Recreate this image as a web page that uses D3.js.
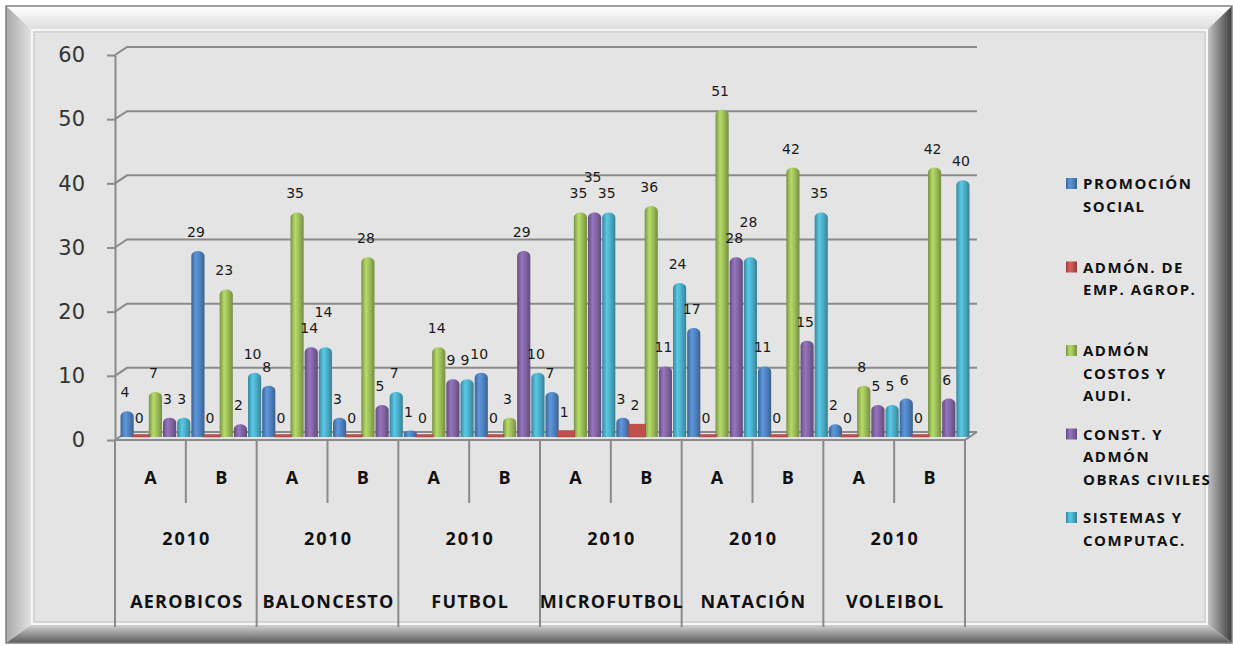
<!DOCTYPE html>
<html>
<head>
<meta charset="utf-8">
<script src="https://cdn.jsdelivr.net/npm/d3@7"></script>
<style>
  body { margin: 0; background: #fff; }
  svg { display: block; }
</style>
</head>
<body>
<script>
// chart data
const sports = ["AEROBICOS", "BALONCESTO", "FUTBOL", "MICROFUTBOL", "NATACIÓN", "VOLEIBOL"];
const sections = ["A", "B"];
const yearLabel = "2010";
const seriesNames = ["PROMOCIÓN SOCIAL", "ADMÓN. DE EMP. AGROP.", "ADMÓN COSTOS Y AUDI.", "CONST. Y ADMÓN OBRAS CIVILES", "SISTEMAS Y COMPUTAC."];
const legendLines = [["PROMOCIÓN", "SOCIAL"], ["ADMÓN. DE", "EMP. AGROP."], ["ADMÓN", "COSTOS Y", "AUDI."], ["CONST. Y", "ADMÓN", "OBRAS CIVILES"], ["SISTEMAS Y", "COMPUTAC."]];
const colors = ["#4f81bd", "#c0504d", "#9bbb59", "#8064a2", "#4bacc6"];
// one value per sport/section (A, B) in order
const promocionSocial = [4, 29, 8, 3, 1, 10, 7, 3, 17, 11, 2, 6];
const admonEmpAgrop   = [0, 0, 0, 0, 0, 0, 1, 2, 0, 0, 0, 0];
const admonCostos     = [7, 23, 35, 28, 14, 3, 35, 36, 51, 42, 8, 42];
const constObras      = [3, 2, 14, 5, 9, 29, 35, 11, 28, 15, 5, 6];
const sistemas        = [3, 10, 14, 7, 9, 10, 35, 24, 28, 35, 5, 40];
const yTicks = [0, 10, 20, 30, 40, 50, 60];

const seriesValues = [promocionSocial, admonEmpAgrop, admonCostos, constObras, sistemas];

const W = 1233, H = 646;
const svg = d3.select("body").append("svg")
  .attr("width", W)
  .attr("height", H);

const defs = svg.append("defs");

// frame gradients
function vGrad(id, c1, c2, horizontal) {
  const g = defs.append("linearGradient").attr("id", id)
    .attr("x1", 0).attr("y1", 0)
    .attr("x2", horizontal ? 1 : 0).attr("y2", horizontal ? 0 : 1);
  g.append("stop").attr("offset", 0).attr("stop-color", c1);
  g.append("stop").attr("offset", 1).attr("stop-color", c2);
}
vGrad("gTop", "#ffffff", "#dcdcdc", false);
vGrad("gLeft", "#a8a8a8", "#e4e4e4", true);
vGrad("gRight", "#c8c8c8", "#3c3c3c", true);
vGrad("gBottom", "#d8d8d8", "#5a5a5a", false);

// bar gradients (cylinder shading)
colors.forEach((c, i) => {
  const g = defs.append("linearGradient").attr("id", "bar" + i)
    .attr("x1", 0).attr("y1", 0).attr("x2", 1).attr("y2", 0);
  g.append("stop").attr("offset", 0).attr("stop-color", d3.color(c).darker(0.7));
  g.append("stop").attr("offset", 0.35).attr("stop-color", d3.color(c).brighter(0.45));
  g.append("stop").attr("offset", 0.65).attr("stop-color", c);
  g.append("stop").attr("offset", 1).attr("stop-color", d3.color(c).darker(0.8));
});

// outer bevel frame
const O = {x0: 6, y0: 6, x1: 1232, y1: 643};
const I = {x0: 32, y0: 30, x1: 1207, y1: 624};
const poly = (pts, fill) => svg.append("polygon")
  .attr("points", pts.map(p => p.join(",")).join(" "))
  .attr("fill", fill);
poly([[O.x0, O.y0], [O.x1, O.y0], [I.x1, I.y0], [I.x0, I.y0]], "url(#gTop)");
poly([[O.x0, O.y0], [I.x0, I.y0], [I.x0, I.y1], [O.x0, O.y1]], "url(#gLeft)");
poly([[I.x1, I.y0], [O.x1, O.y0], [O.x1, O.y1], [I.x1, I.y1]], "url(#gRight)");
poly([[I.x0, I.y1], [I.x1, I.y1], [O.x1, O.y1], [O.x0, O.y1]], "url(#gBottom)");
svg.append("rect")
  .attr("x", O.x0).attr("y", O.y0)
  .attr("width", O.x1 - O.x0).attr("height", O.y1 - O.y0)
  .attr("fill", "none").attr("stroke", "#808080").attr("stroke-width", 1.5);

// inner panel
svg.append("rect")
  .attr("x", I.x0).attr("y", I.y0)
  .attr("width", I.x1 - I.x0).attr("height", I.y1 - I.y0)
  .attr("fill", "#e4e4e4").attr("stroke", "#f6f6f6").attr("stroke-width", 2);
svg.append("rect")
  .attr("x", I.x0 + 2).attr("y", I.y0 + 2)
  .attr("width", I.x1 - I.x0 - 4).attr("height", I.y1 - I.y0 - 4)
  .attr("fill", "none").attr("stroke", "#c4c4c4").attr("stroke-width", 1);

// scales
const groups = [];
sports.forEach(s => sections.forEach(sec => groups.push(s + "|" + sec)));
const x0 = d3.scaleBand().domain(groups).range([115, 965]);
const x1 = d3.scaleBand().domain(d3.range(seriesNames.length)).range([0, x0.bandwidth()]);
const xSport = d3.scaleBand().domain(sports).range([115, 965]);
const y = d3.scaleLinear().domain([0, 60]).range([440, 55]);

const back = {dx: 12, dy: -8};
const mid = {dx: 5, dy: -3};
const gridColor = "#8a8a8a";

// gridlines with 3d back wall
const grid = svg.append("g");
yTicks.forEach(t => {
  grid.append("path")
    .attr("d", `M115,${y(t)} L${115 + back.dx},${y(t) + back.dy} L${965 + back.dx},${y(t) + back.dy}`)
    .attr("fill", "none").attr("stroke", gridColor).attr("stroke-width", 2);
});
// floor front edge
grid.append("path")
  .attr("d", `M115,${y(0)} L965,${y(0)} L${965 + back.dx},${y(0) + back.dy}`)
  .attr("fill", "none").attr("stroke", gridColor).attr("stroke-width", 2);

// y axis
const yAxis = svg.append("g")
  .attr("transform", "translate(115,0)")
  .call(d3.axisLeft(y).tickValues(yTicks).tickSize(8).tickSizeOuter(0).tickPadding(22));
yAxis.select(".domain").attr("stroke", gridColor).attr("stroke-width", 2);
yAxis.selectAll(".tick line").attr("stroke", gridColor).attr("stroke-width", 2);
yAxis.selectAll(".tick text")
  .attr("fill", "#333")
  .style("font-family", "'DejaVu Sans', sans-serif")
  .style("font-size", "21px");

// bars
const barW = x1.bandwidth() - 1;
const rows = [];
groups.forEach((g, gi) => {
  seriesValues.forEach((vals, si) => rows.push({group: g, s: si, v: vals[gi]}));
});
const barX = d => x0(d.group) + x1(d.s) + mid.dx + 0.5;
const base = y(0) + mid.dy;
const barTop = d => y(d.v) + mid.dy;

function cylinder(d) {
  const x = barX(d), r = barW / 2, t = barTop(d);
  const ry = Math.min(5, (base - t) / 2);
  return `M${x},${base} L${x},${t + ry} A${r},${ry} 0 0 1 ${x + barW},${t + ry} L${x + barW},${base} Z`;
}

const bars = svg.append("g");
bars.selectAll("path.cyl")
  .data(rows.filter(d => d.s !== 1 && d.v > 0))
  .join("path")
    .attr("class", "cyl")
    .attr("d", cylinder)
    .attr("fill", d => `url(#bar${d.s})`);

// the red series renders as flat boxes
bars.selectAll("rect.box")
  .data(rows.filter(d => d.s === 1))
  .join("rect")
    .attr("class", "box")
    .attr("x", d => barX(d) - 2)
    .attr("y", d => Math.min(barTop(d), base - 2.5))
    .attr("width", barW + 4)
    .attr("height", d => Math.max(base - barTop(d), 2.5))
    .attr("fill", colors[1])
    .attr("stroke", d3.color(colors[1]).darker(0.5))
    .attr("stroke-width", 0.5);

// value labels, nudged upward when they would collide with a neighbour
const placed = [];
rows.forEach(d => {
  d.lx = barX(d) + barW / 2 - 2;
  d.ly = barTop(d) - 14;
  d.w = String(d.v).length * 8.9;
  let moved = true;
  while (moved) {
    moved = false;
    for (const p of placed) {
      if (Math.abs(p.lx - d.lx) < (p.w + d.w) / 2 && Math.abs(p.ly - d.ly) < 14) {
        d.ly = p.ly - 16;
        moved = true;
      }
    }
  }
  placed.push(d);
});

svg.append("g").selectAll("text")
  .data(rows)
  .join("text")
    .attr("x", d => d.lx)
    .attr("y", d => d.ly)
    .attr("text-anchor", "middle")
    .attr("fill", "#1a1a1a")
    .style("font-family", "'DejaVu Sans', sans-serif")
    .style("font-size", "14px")
    .text(d => d.v);

// category axis
const xAxis = svg.append("g");
groups.forEach((g, gi) => {
  const xs = x0(g);
  const isSportStart = gi % 2 === 0;
  xAxis.append("line")
    .attr("x1", xs).attr("x2", xs)
    .attr("y1", y(0)).attr("y2", isSportStart ? 627 : 503)
    .attr("stroke", gridColor).attr("stroke-width", 2);
});
xAxis.append("line")
  .attr("x1", 965).attr("x2", 965)
  .attr("y1", y(0)).attr("y2", 627)
  .attr("stroke", gridColor).attr("stroke-width", 2);

const catFont = sel => sel
  .attr("text-anchor", "middle")
  .attr("fill", "#111")
  .style("font-family", "'Open Sans', sans-serif")
  .style("font-weight", "700")
  .style("font-size", "18px");

xAxis.selectAll("text.sec")
  .data(groups)
  .join("text")
    .attr("class", "sec")
    .attr("x", g => x0(g) + x0.bandwidth() / 2)
    .attr("y", 484)
    .call(catFont)
    .text(g => g.split("|")[1]);

xAxis.selectAll("text.year")
  .data(sports)
  .join("text")
    .attr("class", "year")
    .attr("x", s => xSport(s) + xSport.bandwidth() / 2 + 1)
    .attr("y", 545)
    .call(catFont)
    .style("letter-spacing", "2px")
    .text(yearLabel);

xAxis.selectAll("text.sport")
  .data(sports)
  .join("text")
    .attr("class", "sport")
    .attr("x", s => xSport(s) + xSport.bandwidth() / 2 + 1)
    .attr("y", 608)
    .call(catFont)
    .style("letter-spacing", "1.2px")
    .text(s => s);

// legend
const legend = svg.append("g");
legendLines.forEach((lines, i) => {
  const ly = 184 + i * 83.5;
  legend.append("rect")
    .attr("x", 1066).attr("y", ly - 6)
    .attr("width", 11).attr("height", 11)
    .attr("fill", `url(#bar${i})`);
  legend.append("text")
    .attr("x", 1083)
    .attr("fill", "#111")
    .style("font-family", "'Open Sans', sans-serif")
    .style("font-weight", "700")
    .style("font-size", "15px")
    .style("letter-spacing", "1.5px")
    .selectAll("tspan")
    .data(lines)
    .join("tspan")
      .attr("x", 1083)
      .attr("y", (d, j) => ly + 5 + j * 22.5)
      .text(d => d);
});
</script>
</body>
</html>
